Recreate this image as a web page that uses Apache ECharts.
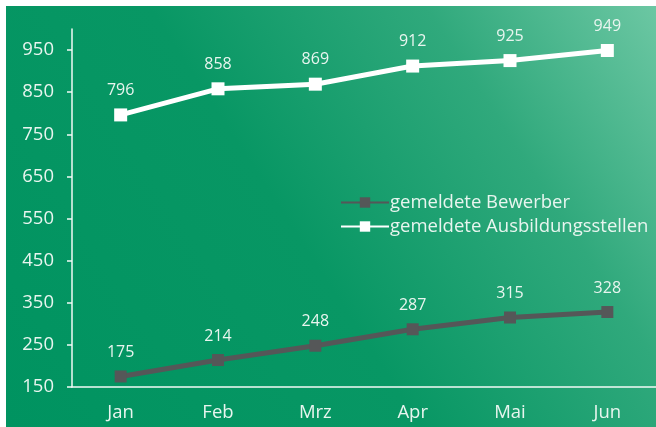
<!DOCTYPE html>
<html lang="de">
<head>
    <meta charset="utf-8">
    <title>Bewerber und Ausbildungsstellen</title>
    <script src="https://cdn.jsdelivr.net/npm/echarts@6/dist/echarts.min.js"></script>
    <style>
        html, body { margin: 0; padding: 0; background: #fff; }
        #chart { width: 656px; height: 427px; }
    </style>
</head>
<body>
    <div id="chart"></div>
    <script type="text/javascript">
        var months = ['Jan', 'Feb', 'Mrz', 'Apr', 'Mai', 'Jun'];
        var bewerber = [175, 214, 248, 287, 315, 328];
        var stellen = [796, 858, 869, 912, 925, 949];
        var yTicks = [150, 250, 350, 450, 550, 650, 750, 850, 950];

        var txt = '#e8f5ef';
        var font = 'Open Sans';

        var myChart = echarts.init(document.getElementById('chart'));
        var option = {
            animation: false,
            backgroundColor: '#ffffff',
            textStyle: { fontFamily: font },
            graphic: [{
                type: 'rect',
                z: -10,
                shape: { x: 6, y: 6, width: 650, height: 421 },
                style: {
                    fill: new echarts.graphic.LinearGradient(0, 1, 1, 0, [
                        { offset: 0, color: '#009360' },
                        { offset: 0.45, color: '#089764' },
                        { offset: 0.75, color: '#30a97c' },
                        { offset: 1, color: '#6cc7a3' }
                    ])
                }
            }],
            grid: { left: 72, top: 29, right: -8, bottom: 40 },
            legend: {
                orient: 'vertical',
                left: 335,
                top: 188,
                itemWidth: 48,
                itemHeight: 13,
                itemGap: 5,
                textStyle: { color: txt, fontSize: 18.5, fontFamily: font, padding: [0, 0, 0, -4] },
                data: ['gemeldete Bewerber', 'gemeldete Ausbildungsstellen']
            },
            xAxis: {
                type: 'category',
                data: months,
                boundaryGap: true,
                axisLine: { lineStyle: { color: '#f2faf6', width: 1.5 } },
                axisTick: { length: 5, lineStyle: { color: '#f2faf6', width: 1.5 } },
                axisLabel: { color: txt, fontSize: 18.5, margin: 16 }
            },
            yAxis: {
                type: 'value',
                min: 150,
                max: 1000,
                interval: 100,
                splitLine: { show: false },
                axisLine: { show: true, lineStyle: { color: '#f2faf6', width: 1.5 } },
                axisTick: { show: true, length: 5, customValues: yTicks, lineStyle: { color: '#f2faf6', width: 1.5 } },
                axisLabel: {
                    color: txt,
                    fontSize: 18.5,
                    margin: 12,
                    showMaxLabel: false,
                    formatter: '{v|{value}}',
                    rich: {
                        v: { color: txt, fontSize: 18.5, fontFamily: font, padding: [0, 6, 0, 0] }
                    }
                }
            },
            series: [{
                name: 'gemeldete Bewerber',
                type: 'line',
                data: bewerber,
                symbol: 'rect',
                symbolSize: 12,
                color: '#555758',
                lineStyle: { width: 5, color: '#555758' },
                itemStyle: { color: '#555758' },
                label: { show: true, position: 'top', distance: 10, color: txt, fontSize: 16 }
            }, {
                name: 'gemeldete Ausbildungsstellen',
                type: 'line',
                data: stellen,
                symbol: 'rect',
                symbolSize: 13,
                color: '#ffffff',
                lineStyle: { width: 5, color: '#ffffff' },
                itemStyle: { color: '#ffffff' },
                label: { show: true, position: 'top', distance: 10, color: txt, fontSize: 16 }
            }]
        };
        myChart.setOption(option);
    </script>
</body>
</html>
